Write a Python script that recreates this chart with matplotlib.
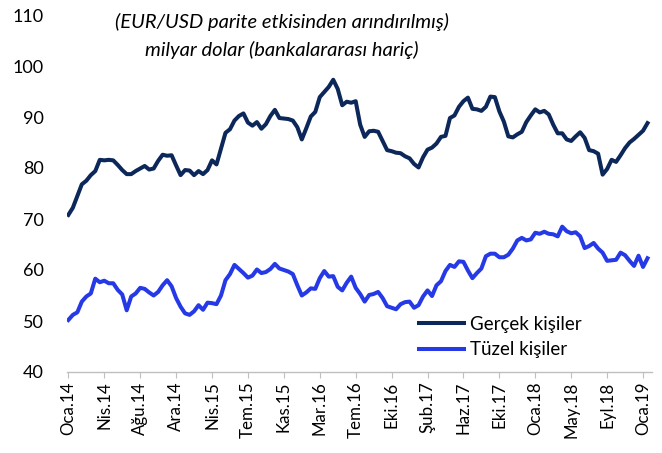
import matplotlib
matplotlib.use("Agg")
import matplotlib.pyplot as plt
import numpy as np

tick_labels = ["Oca.14", "Nis.14", "Ağu.14", "Ara.14", "Nis.15", "Tem.15", "Kas.15",
               "Mar.16", "Tem.16", "Eki.16", "Şub.17", "Haz.17", "Eki.17", "Oca.18",
               "May.18", "Eyl.18", "Oca.19"]

gercek = [70.8, 72.2, 74.5, 76.8, 77.5, 78.6, 79.4, 81.6, 81.5, 81.6,
          81.5, 80.6, 79.6, 78.8, 78.8, 79.4, 79.9, 80.4, 79.7, 79.9,
          81.4, 82.6, 82.4, 82.5, 80.5, 78.6, 79.6, 79.5, 78.6, 79.4,
          78.8, 79.6, 81.5, 80.7, 83.8, 86.9, 87.6, 89.3, 90.2, 90.7,
          88.9, 88.3, 89.0, 87.7, 88.6, 90.2, 91.4, 89.8, 89.7, 89.6,
          89.3, 88.0, 85.6, 87.8, 90.1, 91.0, 93.9, 94.9, 95.9, 97.3,
          95.5, 92.3, 93.0, 92.8, 93.1, 88.5, 86.1, 87.2, 87.3, 87.1,
          85.3, 83.5, 83.3, 83.0, 82.9, 82.3, 81.9, 80.8, 80.1, 82.1,
          83.6, 84.0, 84.8, 86.1, 86.3, 89.8, 90.3, 92.0, 93.1, 93.8,
          91.6, 91.5, 91.2, 92.0, 94.0, 93.9, 91.1, 89.1, 86.2, 86.0,
          86.6, 87.1, 89.0, 90.3, 91.5, 90.9, 91.2, 90.5, 88.5, 86.8,
          86.8, 85.6, 85.3, 86.2, 87.0, 85.9, 83.5, 83.3, 82.8, 78.7,
          79.8, 81.6, 81.2, 82.5, 83.9, 85.0, 85.7, 86.5, 87.3, 88.8]

tuzel = [50.2, 51.2, 51.7, 53.8, 54.8, 55.4, 58.3, 57.6, 57.9, 57.4,
         57.4, 56.1, 55.2, 52.1, 54.8, 55.4, 56.5, 56.3, 55.6, 55.0,
         55.7, 57.0, 58.0, 56.8, 54.5, 52.8, 51.5, 51.2, 51.9, 53.1,
         52.2, 53.6, 53.5, 53.3, 55.0, 58.0, 59.2, 61.0, 60.2, 59.4,
         58.5, 58.9, 60.1, 59.4, 59.6, 60.2, 61.2, 60.3, 60.0, 59.7,
         59.2, 57.0, 55.0, 55.6, 56.4, 56.3, 58.4, 59.8, 58.7, 58.8,
         56.7, 56.0, 57.5, 58.7, 56.5, 55.3, 53.8, 55.1, 55.3, 55.7,
         54.5, 52.9, 52.6, 52.3, 53.3, 53.7, 53.8, 52.6, 53.1, 54.8,
         56.0, 54.9, 57.0, 57.8, 59.8, 61.0, 60.6, 61.7, 61.6, 59.9,
         58.4, 59.4, 60.3, 62.7, 63.2, 63.2, 62.5, 62.5, 63.0, 64.2,
         65.8, 66.3, 65.8, 66.0, 67.3, 67.1, 67.5, 67.1, 67.0, 66.6,
         68.5, 67.6, 67.2, 67.4, 66.6, 64.3, 64.7, 65.3, 64.2, 63.4,
         61.8, 61.9, 62.0, 63.4, 62.9, 61.8, 60.8, 62.8, 60.6, 62.3]

tick_step = 8
series_names = ["Gerçek kişiler", "Tüzel kişiler"]

plt.rcParams['font.family'] = ['Lato', 'DejaVu Sans']

fig = plt.figure(figsize=(6.62, 4.53), dpi=100)
ax = fig.add_axes([67/662, 1 - 372/453, (652 - 67)/662, (372 - 15)/453])

x = np.arange(len(gercek))
ax.plot(x, gercek, color='#0c2759', lw=2.9, label=series_names[0], solid_joinstyle='round')
ax.plot(x, tuzel, color='#2639e6', lw=2.9, label=series_names[1], solid_joinstyle='round')

ax.set_xlim(-0.3, 130)
ax.set_ylim(40, 110)
ax.set_yticks(np.arange(40, 111, 10))
ax.set_xticks(np.arange(0, len(tick_labels) * tick_step, tick_step))
ax.set_xticklabels(tick_labels, rotation=90, fontsize=12.2)
ax.tick_params(axis='y', length=0, labelsize=13, pad=17)
ax.tick_params(axis='x', length=4, color='#bfbfbf', pad=3)

for s in ['top', 'right', 'left']:
    ax.spines[s].set_visible(False)
ax.spines['bottom'].set_color('#bfbfbf')
ax.spines['bottom'].set_linewidth(1.0)

fig.text(282/662, 1 - 22/453, "(EUR/USD parite etkisinden arındırılmış)",
         ha='center', va='center', fontsize=14.5, style='italic')
fig.text(282/662, 1 - 50/453, "milyar dolar (bankalararası hariç)",
         ha='center', va='center', fontsize=14.5, style='italic')

leg = ax.legend(loc='upper left', bbox_to_anchor=(402/662, 1 - 299/453),
                bbox_transform=fig.transFigure, frameon=False, fontsize=13.5,
                handlelength=2.4, handletextpad=0.3, labelspacing=0.45)

fig.savefig("out.png", dpi=100)
